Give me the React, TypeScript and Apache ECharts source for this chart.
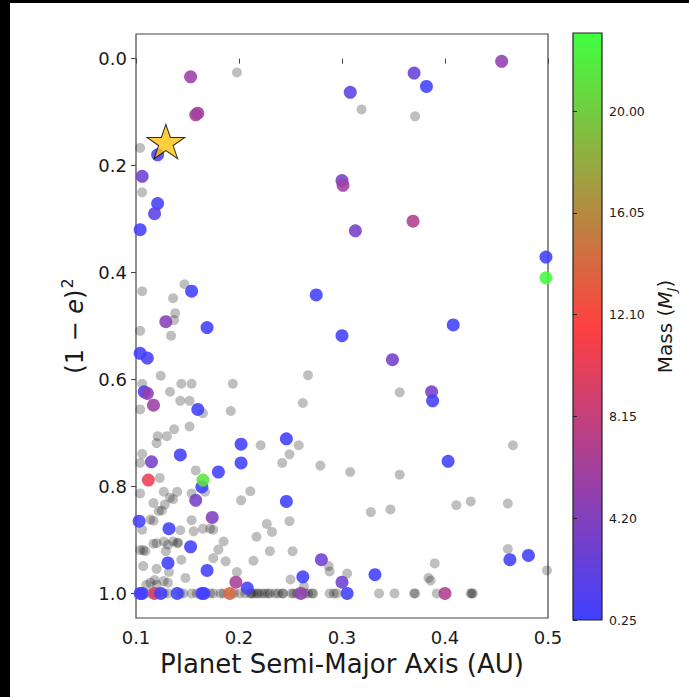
import React, { useEffect, useRef } from "react";
import * as echarts from "echarts";

// Axis ticks
const xTicks = [0.1, 0.2, 0.3, 0.4, 0.5];
const yTicks = [0.0, 0.2, 0.4, 0.6, 0.8, 1.0];
const massTicks = [0.25, 4.2, 8.15, 12.1, 16.05, 20.0];
const massRange = [0.25, 23.03];
const massColors = ["#4040ff", "#ff4040", "#40ff40"];

// Planets without a mass value: [semi-major axis (AU), (1-e)^2]
const grayPlanets: [number, number][] = [
  [0.198, 0.026], [0.319, 0.095], [0.371, 0.108], [0.104, 0.167], [0.106, 0.25],
  [0.106, 0.435], [0.147, 0.422], [0.136, 0.448], [0.138, 0.476], [0.137, 0.489],
  [0.104, 0.509], [0.134, 0.518], [0.124, 0.593], [0.106, 0.608], [0.144, 0.608],
  [0.154, 0.608], [0.194, 0.608], [0.267, 0.592], [0.133, 0.623], [0.143, 0.64],
  [0.152, 0.64], [0.104, 0.656], [0.165, 0.663], [0.192, 0.659], [0.356, 0.624],
  [0.262, 0.644], [0.121, 0.706], [0.13, 0.706], [0.137, 0.693], [0.152, 0.688],
  [0.12, 0.719], [0.106, 0.739], [0.221, 0.723], [0.258, 0.723], [0.249, 0.74],
  [0.242, 0.756], [0.279, 0.761], [0.308, 0.773], [0.356, 0.778], [0.466, 0.723],
  [0.104, 0.756], [0.123, 0.784], [0.158, 0.77], [0.211, 0.809], [0.202, 0.826],
  [0.104, 0.813], [0.127, 0.81], [0.14, 0.81], [0.154, 0.813], [0.167, 0.81],
  [0.117, 0.831], [0.133, 0.821], [0.136, 0.824], [0.128, 0.834], [0.125, 0.845],
  [0.122, 0.846], [0.117, 0.864], [0.114, 0.862], [0.154, 0.863], [0.106, 0.881],
  [0.143, 0.882], [0.156, 0.884], [0.165, 0.879], [0.172, 0.879], [0.175, 0.881],
  [0.227, 0.87], [0.232, 0.885], [0.217, 0.894], [0.249, 0.865], [0.328, 0.848],
  [0.347, 0.843], [0.411, 0.835], [0.425, 0.828], [0.461, 0.832], [0.185, 0.903],
  [0.18, 0.918], [0.104, 0.919], [0.107, 0.919], [0.109, 0.921], [0.117, 0.907],
  [0.12, 0.906], [0.127, 0.903], [0.131, 0.909], [0.136, 0.903], [0.14, 0.906],
  [0.141, 0.905], [0.129, 0.921], [0.23, 0.921], [0.252, 0.921], [0.461, 0.917],
  [0.175, 0.934], [0.144, 0.937], [0.187, 0.94], [0.214, 0.939], [0.107, 0.949],
  [0.12, 0.954], [0.132, 0.96], [0.198, 0.96], [0.148, 0.971], [0.118, 0.975],
  [0.114, 0.98], [0.127, 0.977], [0.131, 0.98], [0.11, 0.984], [0.12, 0.984],
  [0.287, 0.949], [0.288, 0.959], [0.305, 0.963], [0.25, 0.974], [0.263, 0.987],
  [0.39, 0.944], [0.384, 0.971], [0.386, 0.976], [0.499, 0.957],
  // circular orbits, (1-e)^2 = 1
  [0.104, 1], [0.114, 1], [0.118, 1], [0.127, 1], [0.131, 1], [0.143, 1],
  [0.146, 1], [0.154, 1], [0.159, 1], [0.172, 1], [0.175, 1], [0.182, 1],
  [0.185, 1], [0.195, 1], [0.201, 1], [0.206, 1], [0.211, 1], [0.212, 1],
  [0.214, 1], [0.217, 1], [0.219, 1], [0.222, 1], [0.225, 1], [0.228, 1],
  [0.23, 1], [0.235, 1], [0.238, 1], [0.242, 1], [0.243, 1], [0.251, 1],
  [0.253, 1], [0.256, 1], [0.264, 1], [0.267, 1], [0.271, 1], [0.272, 1],
  [0.288, 1], [0.292, 1], [0.295, 1], [0.336, 1], [0.351, 1], [0.37, 1],
  [0.371, 1], [0.392, 1], [0.425, 1], [0.426, 1], [0.427, 1],
];

// Planets with a mass value: [semi-major axis (AU), (1-e)^2, mass (M_J)]
const massivePlanets: [number, number, number][] = [
  [0.153, 0.034, 5.5], [0.158, 0.105, 6.5], [0.16, 0.102, 6.0], [0.121, 0.18, 0.8],
  [0.106, 0.22, 3.0], [0.121, 0.271, 0.5], [0.118, 0.29, 2.0], [0.104, 0.32, 0.5],
  [0.455, 0.005, 5.0], [0.37, 0.027, 2.5], [0.382, 0.052, 0.3], [0.308, 0.063, 2.0],
  [0.3, 0.228, 3.5], [0.301, 0.237, 6.0], [0.369, 0.304, 7.0], [0.313, 0.322, 3.5],
  [0.498, 0.371, 0.3], [0.498, 0.41, 23.0], [0.154, 0.435, 0.3], [0.129, 0.492, 4.5],
  [0.169, 0.503, 0.3], [0.275, 0.442, 0.3], [0.408, 0.498, 0.3], [0.3, 0.518, 0.3],
  [0.104, 0.551, 0.3], [0.111, 0.56, 0.5], [0.349, 0.563, 3.5], [0.387, 0.623, 3.5],
  [0.388, 0.64, 0.5], [0.108, 0.623, 1.2], [0.111, 0.626, 5.0], [0.117, 0.648, 5.5],
  [0.16, 0.656, 0.3], [0.143, 0.741, 0.3], [0.202, 0.721, 0.3], [0.202, 0.756, 0.3],
  [0.246, 0.711, 0.3], [0.403, 0.753, 0.3], [0.115, 0.754, 3.5], [0.112, 0.788, 10.5],
  [0.18, 0.773, 0.3], [0.164, 0.801, 0.3], [0.165, 0.788, 21.5], [0.158, 0.826, 3.5],
  [0.246, 0.828, 0.3], [0.103, 0.865, 0.5], [0.174, 0.858, 4.0], [0.132, 0.879, 0.3],
  [0.153, 0.913, 0.3], [0.131, 0.943, 0.3], [0.169, 0.957, 0.3], [0.197, 0.979, 6.5],
  [0.208, 0.99, 0.5], [0.262, 0.969, 0.3], [0.3, 0.979, 3.0], [0.332, 0.965, 0.3],
  [0.28, 0.937, 3.0], [0.463, 0.937, 0.3], [0.481, 0.929, 0.3],
  [0.104, 1, 0.3], [0.106, 1, 0.5], [0.118, 1, 9.5], [0.124, 1, 0.3],
  [0.14, 1, 0.3], [0.164, 1, 0.3], [0.166, 1, 0.3], [0.191, 1, 14.0],
  [0.26, 1, 5.0], [0.305, 1, 0.3], [0.4, 1, 7.0],
];

// Highlighted system
const highlighted: [number, number][] = [[0.129, 0.155]];

const STAR =
  "path://M0,-100 L22.45,-30.9 L95.1,-30.9 L36.3,11.8 L58.8,80.9 L0,38.2 L-58.8,80.9 L-36.3,11.8 L-95.1,-30.9 L-22.45,-30.9 Z";

const FONT = "DejaVu Sans";
const INK = "#1a1a1a";

export default function App() {
  const ref = useRef<HTMLDivElement>(null);

  useEffect(() => {
    if (!ref.current) return;
    const chart = echarts.init(ref.current, null, { renderer: "svg" });

    const option: echarts.EChartsOption = {
      animation: false,
      textStyle: { fontFamily: FONT },
      grid: [
        {
          left: 136, right: 141, top: 34, bottom: 79,
          show: true, borderColor: "#444", borderWidth: 1.2,
          backgroundColor: "#fff",
        },
        {
          left: 573, width: 29, top: 33, bottom: 77,
          show: true, borderColor: "#222", borderWidth: 1.2,
          backgroundColor: new echarts.graphic.LinearGradient(0, 1, 0, 0, [
            { offset: 0, color: massColors[0] },
            { offset: 0.5, color: massColors[1] },
            { offset: 1, color: massColors[2] },
          ]),
        },
      ],
      xAxis: [
        {
          gridIndex: 0, type: "value", min: 0.1, max: 0.5, interval: 0.1,
          splitLine: { show: false },
          axisLine: { show: false },
          axisTick: { show: true, length: 5, lineStyle: { color: "#444" }, customValues: xTicks },
          axisLabel: {
            customValues: xTicks, margin: 10, fontSize: 18, color: INK, fontFamily: FONT,
            formatter: (v: number) => v.toFixed(1),
          },
          name: "Planet Semi-Major Axis (AU)",
          nameLocation: "middle", nameGap: 32,
          nameTextStyle: { fontSize: 26, color: INK, fontFamily: FONT },
        },
        { gridIndex: 1, type: "value", show: false, min: 0, max: 1 },
      ],
      yAxis: [
        {
          gridIndex: 0, type: "value", inverse: true, min: -0.046, max: 1.046,
          splitLine: { show: false },
          axisLine: { show: false },
          axisTick: { show: true, length: 5, lineStyle: { color: "#444" }, customValues: yTicks },
          axisLabel: {
            customValues: yTicks, margin: 9, fontSize: 18, color: INK, fontFamily: FONT,
            formatter: (v: number) => v.toFixed(1),
          },
          name: "{p|(1 − }{e|e}{p|)}{s|2}",
          nameLocation: "middle", nameGap: 46, nameRotate: 90,
          nameTextStyle: {
            color: INK,
            rich: {
              p: { fontSize: 24, fontFamily: FONT, color: INK, verticalAlign: "bottom" },
              e: { fontSize: 24, fontFamily: FONT, fontStyle: "italic", color: INK, verticalAlign: "bottom" },
              s: { fontSize: 16, fontFamily: FONT, color: INK, verticalAlign: "bottom", padding: [0, 0, 12, 1] },
            },
          },
        },
        {
          gridIndex: 1, type: "value", position: "right",
          min: massRange[0], max: massRange[1],
          splitLine: { show: false },
          axisLine: { show: false },
          axisTick: { show: true, length: 4, lineStyle: { color: "#222" }, customValues: massTicks },
          axisLabel: {
            customValues: massTicks, margin: 7, fontSize: 12.5, color: INK, fontFamily: FONT,
            formatter: (v: number) => v.toFixed(2),
          },
          name: "{p|Mass (}{m|M}{j|J}{p|)}",
          nameLocation: "middle", nameGap: 53, nameRotate: 90,
          nameTextStyle: {
            color: INK,
            rich: {
              p: { fontSize: 20, fontFamily: FONT, color: INK, verticalAlign: "top" },
              m: { fontSize: 20, fontFamily: FONT, fontStyle: "italic", color: INK, verticalAlign: "top" },
              j: { fontSize: 13, fontFamily: FONT, fontStyle: "italic", color: INK, verticalAlign: "top", padding: [10, 0, 0, 0] },
            },
          },
        },
      ],
      visualMap: {
        type: "continuous",
        show: false,
        seriesIndex: 1,
        dimension: 2,
        min: massRange[0],
        max: massRange[1],
        inRange: { color: massColors },
      },
      series: [
        {
          type: "scatter", xAxisIndex: 0, yAxisIndex: 0,
          data: grayPlanets, symbolSize: 10,
          itemStyle: { color: "#000", opacity: 0.25 },
          silent: true,
        },
        {
          type: "scatter", xAxisIndex: 0, yAxisIndex: 0,
          data: massivePlanets, symbolSize: 13,
          itemStyle: { opacity: 0.88 },
          silent: true,
        },
        {
          type: "scatter", xAxisIndex: 0, yAxisIndex: 0,
          data: highlighted, symbol: STAR, symbolKeepAspect: true, symbolSize: [38, 36],
          itemStyle: { color: "#ffc20e", borderColor: "#000", borderWidth: 1 },
          silent: true,
        },
      ],
    };

    chart.setOption(option);
    return () => chart.dispose();
  }, []);

  return (
    <div style={{ position: "fixed", left: 0, top: 0, width: 689, height: 697, background: "#fff", overflow: "hidden" }}>
      <div ref={ref} style={{ position: "absolute", left: 0, top: 0, width: 689, height: 697 }} />
      <div style={{ position: "absolute", left: 0, top: 0, width: 10, height: 697, background: "#000" }} />
      <div style={{ position: "absolute", left: 0, top: 0, width: 689, height: 3, background: "#000" }} />
    </div>
  );
}
